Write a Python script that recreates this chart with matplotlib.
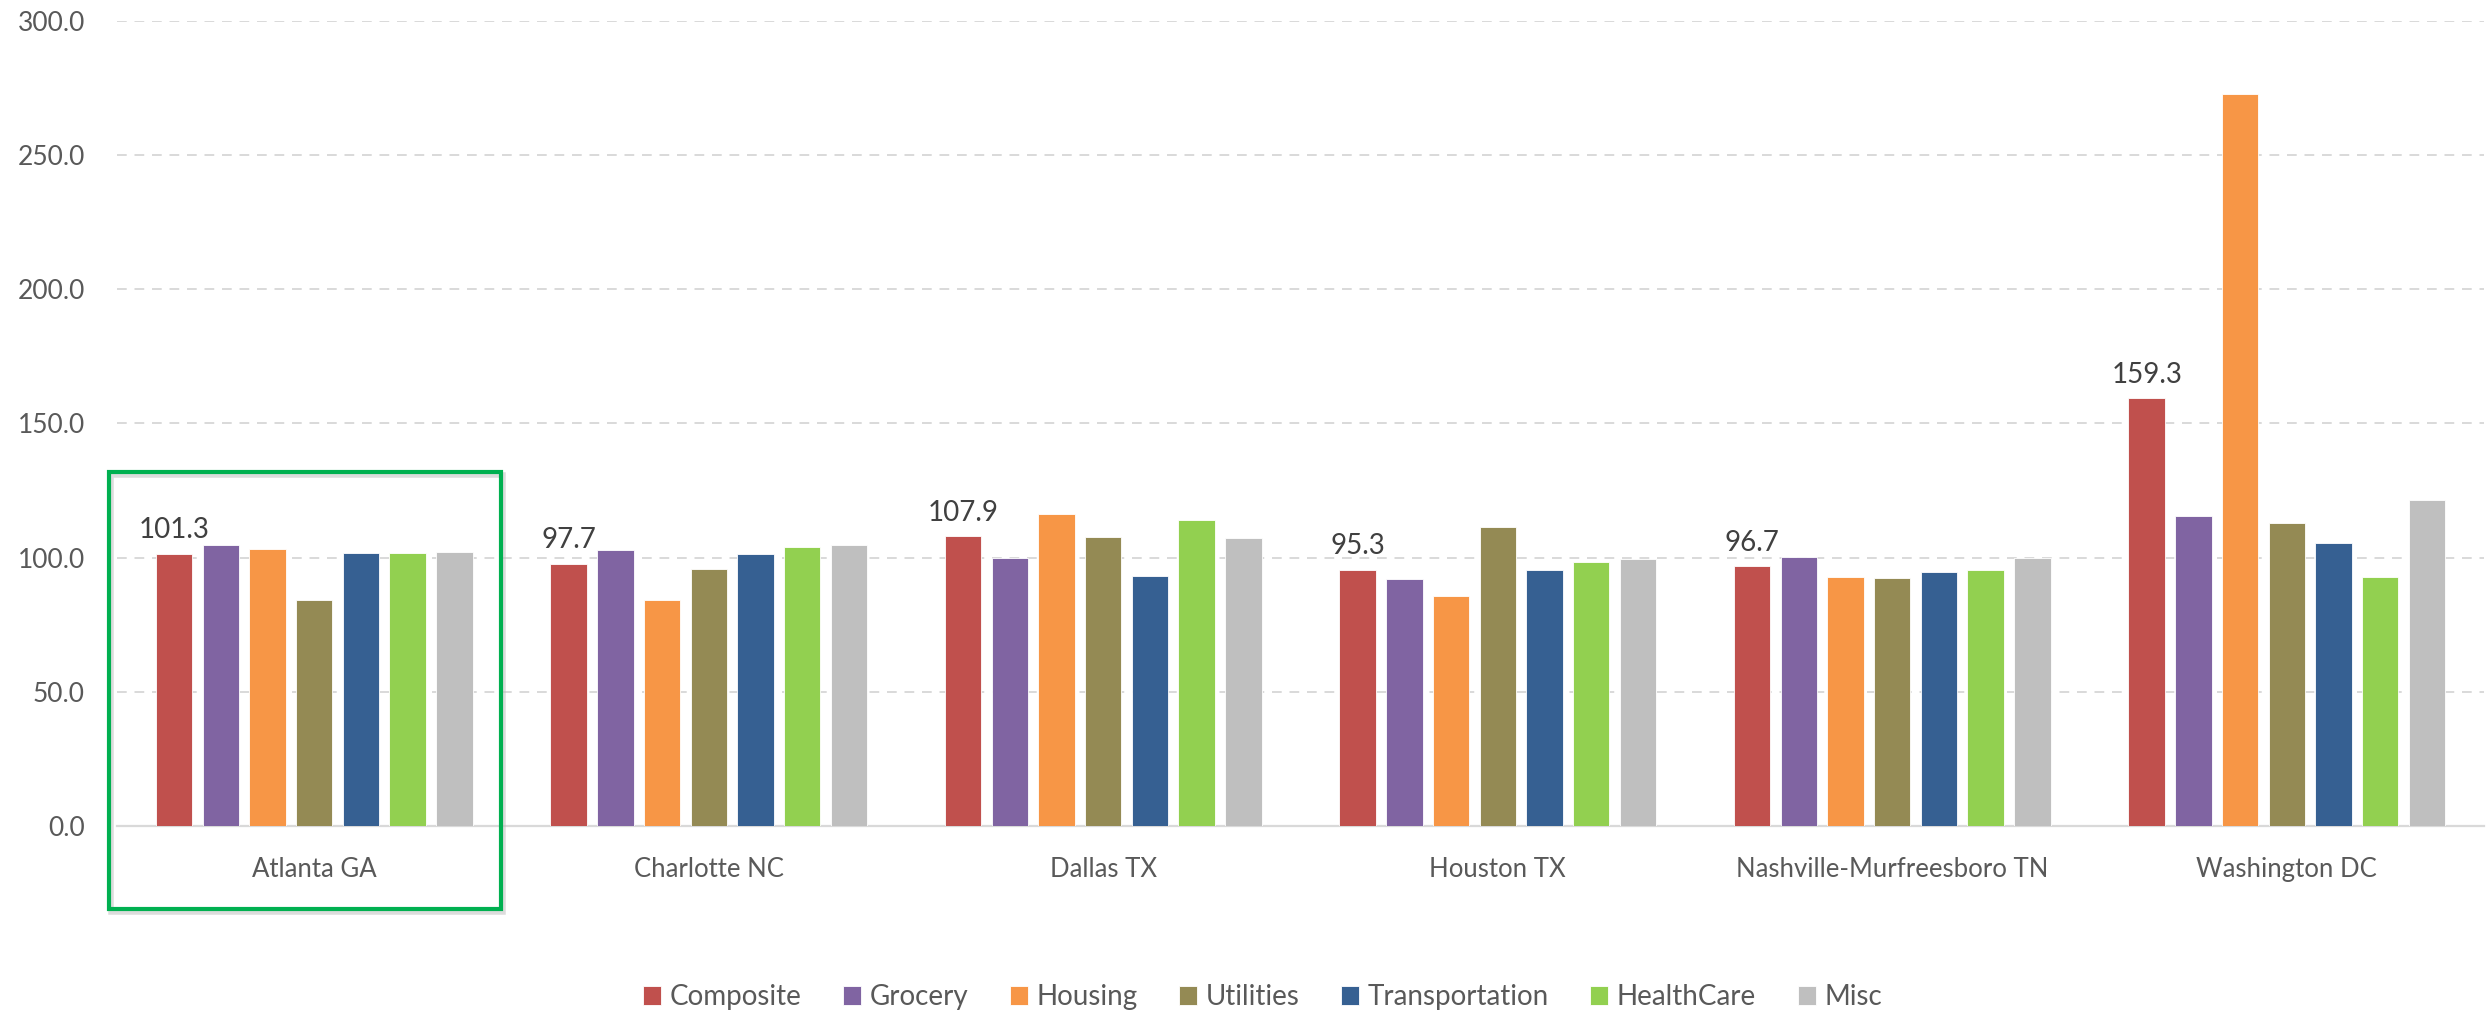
import matplotlib.pyplot as plt
import numpy as np
from matplotlib.patches import Rectangle

plt.rcParams['font.family'] = ['Lato', 'DejaVu Sans']

# cost of living index by metro area
cities = ["Atlanta GA", "Charlotte NC", "Dallas TX", "Houston TX",
          "Nashville-Murfreesboro TN", "Washington DC"]
series = ["Composite", "Grocery", "Housing", "Utilities",
          "Transportation", "HealthCare", "Misc"]

composite = [101.3, 97.7, 107.9, 95.3, 96.7, 159.3]
grocery = [104.8, 102.7, 99.8, 91.9, 100.1, 115.5]
housing = [103.1, 84.1, 116.3, 85.5, 92.6, 272.8]
utilities = [84.3, 95.9, 107.7, 111.3, 92.4, 112.9]
transportation = [101.8, 101.5, 93.0, 95.3, 94.5, 105.5]
healthcare = [101.8, 104.1, 113.9, 98.4, 95.3, 92.8]
misc = [102.2, 104.7, 107.1, 99.4, 100.0, 121.6]

colors = ["#C0504D", "#8064A2", "#F79646", "#948A54",
          "#366092", "#92D050", "#BFBFBF"]

values = [composite, grocery, housing, utilities, transportation, healthcare, misc]

fig = plt.figure(figsize=(24.89, 10.13), dpi=100)
ax = fig.add_axes([0.047, 0.1846, 0.951, 0.795])

x = np.arange(len(cities))
pitch = 0.1184
width = 0.0923
for j, (name, vals, col) in enumerate(zip(series, values, colors)):
    bars = ax.bar(x + (j - 3) * pitch, vals, width, color=col, label=name,
                  edgecolor="white", linewidth=0.6, zorder=3)
    if j == 0:
        for b, v in zip(bars, vals):
            ax.text(b.get_x() + b.get_width() / 2, v + 4, "%.1f" % v,
                    ha="center", va="bottom", fontsize=20, color="#404040")

ax.set_xlim(-0.5, len(cities) - 0.5)
ax.set_ylim(0, 300)
ax.set_yticks(np.arange(0, 301, 50))
ax.set_yticklabels(["%.1f" % t for t in np.arange(0, 301, 50)])
ax.set_xticks(x)
ax.set_xticklabels(cities)
ax.tick_params(axis="y", length=0, pad=23, labelsize=19, labelcolor="#595959")
ax.tick_params(axis="x", length=0, pad=22, labelsize=18.5, labelcolor="#595959")

ax.grid(axis="y", linestyle=(0, (5, 4)), color="#D9D9D9", linewidth=1.4, zorder=0)
for s in ["top", "right", "left"]:
    ax.spines[s].set_visible(False)
ax.spines["bottom"].set_color("#D9D9D9")
ax.spines["bottom"].set_linewidth(1.6)

# highlight box around Atlanta, with a soft shadow
shadow = Rectangle((-0.515, -32.2), 0.994, 163, fill=False, edgecolor="#BBBBBB",
                   linewidth=4, alpha=0.5, clip_on=False, zorder=4)
ax.add_patch(shadow)
box = Rectangle((-0.52, -31), 0.994, 163, fill=False, edgecolor="#00B050",
                linewidth=3, clip_on=False, zorder=5)
ax.add_patch(box)

ax.legend(loc="lower center", bbox_to_anchor=(0.484, -0.26), ncol=7,
          frameon=False, fontsize=20, handlelength=0.65, handleheight=0.65,
          handletextpad=0.3, columnspacing=1.5, labelcolor="#595959")

fig.savefig("out.png", dpi=100)
